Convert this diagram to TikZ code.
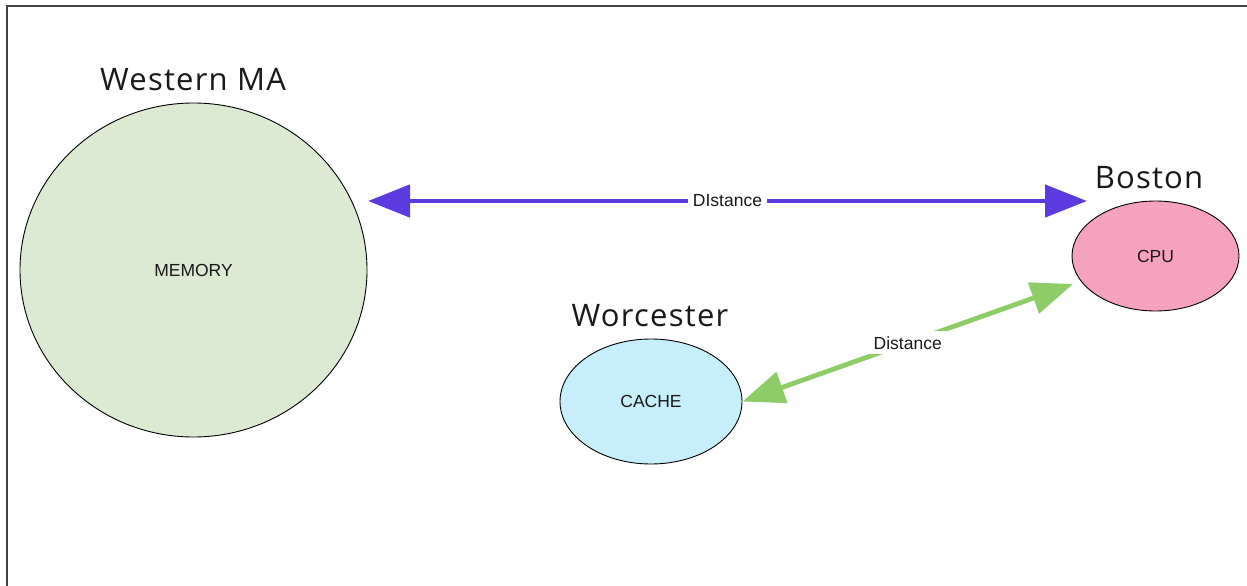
\documentclass[tikz,border=0pt]{standalone}
\usepackage{fontspec}
\setmainfont{Liberation Sans}
\newfontfamily\titlefont[LetterSpace=4]{Open Sans}
\usetikzlibrary{arrows.meta,shapes.geometric}

\definecolor{memfill}{HTML}{DCE9D3}
\definecolor{cpufill}{HTML}{F6A2BE}
\definecolor{cachefill}{HTML}{C7EEFB}
\definecolor{farlink}{HTML}{5B3BE0}
\definecolor{nearlink}{HTML}{8DCC67}

\begin{document}
\begin{tikzpicture}[x=1pt,y=-1pt,
  place/.style={ellipse, draw=black, line width=0.9pt, inner sep=0pt,
    font=\fontsize{17.5}{20}\selectfont, text=black!90},
  town/.style={font=\titlefont\fontsize{31}{36}\selectfont, text=black!90},
  link/.style={line width=4.8pt,
    {Triangle[length=42pt,width=32pt]}-{Triangle[length=42pt,width=32pt]}},
  linklabel/.style={fill=white, inner sep=5pt, text=black!90,
    font=\fontsize{17.5}{20}\selectfont}
]
\useasboundingbox (0,0) rectangle (1247,586);

% page frame (top and left edges)
\draw[line width=1.8pt, black!75] (1247,6) -- (7,6) -- (7,586);

% locations
\node[place, fill=memfill, minimum width=347pt, minimum height=334pt] (mem) at (193.5,270) {MEMORY};
\node[place, fill=cpufill, minimum width=167pt, minimum height=110pt] (cpu) at (1155.5,256) {CPU};
\node[place, fill=cachefill, minimum width=182pt, minimum height=125pt] (cache) at (651,401.5) {CACHE};

% town names
\node[town] (wma) at (193,80) {Western MA};
\node[town] (bos) at (1149,178) {Boston};
\node[town] (wor) at (650,316) {Worcester};

% long link between memory and CPU
\coordinate (farA) at (368,201);
\coordinate (farB) at (1087,201);
\draw[link, farlink] (farA) -- node[linklabel] (farlab) {DIstance} (farB);

% short link between cache and CPU
\coordinate (nearB) at (1073,284);
\draw[link, nearlink] (cache.east) -- node[linklabel, pos=0.5] (nearlab) {Distance} (nearB);
\end{tikzpicture}
\end{document}
